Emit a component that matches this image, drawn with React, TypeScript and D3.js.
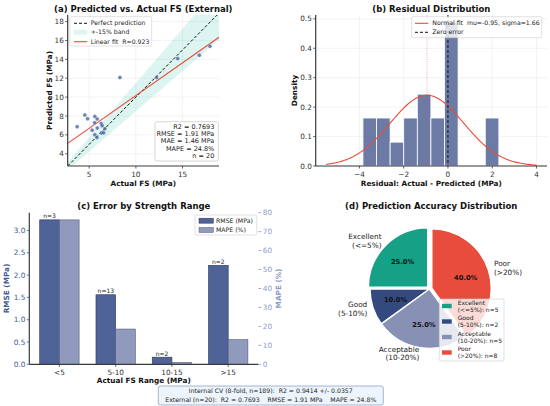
import React from 'react';
import * as d3 from 'd3';

// ---------- DATA ----------
const actualFS = [3.71, 4.54, 4.83, 5.32, 5.58, 5.61, 5.61, 5.86, 5.86, 5.83, 6.29, 6.39, 6.33, 6.68, 6.54, 8.29, 12.22, 14.47, 16.79, 17.93];
const predictedFS = [6.86, 8.10, 7.70, 6.50, 7.28, 7.95, 6.00, 7.67, 6.72, 5.73, 7.20, 6.96, 6.19, 6.65, 6.22, 12.07, 12.07, 14.08, 14.44, 15.40];
const statsLines = ['R2 = 0.7693', 'RMSE = 1.91 MPa', 'MAE = 1.46 MPa', 'MAPE = 24.8%', 'n = 20'];
const fitR = 0.923;

const residBinStart = -3.84;
const residBinWidth = 0.614;
const residDensity = [0.163, 0.163, 0.081, 0.163, 0.244, 0.163, 0.489, 0, 0, 0.163];
const normMu = -0.95;
const normSigma = 1.66;
const normRange = [-5.5, 4.0];

const rangeCats = ['<5', '5-10', '10-15', '>15'];
const rangeRMSE = [3.24, 1.56, 0.16, 2.22];
const rangeMAPE = [76.2, 18.6, 1.0, 13.0];
const rangeN = [3, 13, 2, 2];

const accNames = ['Excellent', 'Good', 'Acceptable', 'Poor'];
const accRanges = ['(<=5%)', '(5-10%)', '(10-20%)', '(>20%)'];
const accCounts = [5, 2, 5, 8];
const accColors = ['#16a085', '#34497d', '#8790b5', '#e74c3c'];
const accExplode = [0.04, 0, 0, 0.04];

const summaryLines = [
  'Internal CV (8-fold, n=189):  R2 = 0.9414 +/- 0.0357',
  'External (n=20):  R2 = 0.7693    RMSE = 1.91 MPa    MAPE = 24.8%',
];

const FONT = 'DejaVu Sans';
const SPINE = '#3a3a3a';
const GRID = '#ebebeb';

function PanelA() {
  const x = d3.scaleLinear([2.7, 18.9], [67.7, 219]);
  const y = d3.scaleLinear([2.7, 18.7], [166, 15]);
  const [x0, x1] = x.domain();
  const mx = d3.mean(actualFS)!;
  const my = d3.mean(predictedFS)!;
  let sxy = 0, sxx = 0;
  actualFS.forEach((v, i) => { sxy += (v - mx) * (predictedFS[i] - my); sxx += (v - mx) * (v - mx); });
  const slope = sxy / sxx;
  const icpt = my - slope * mx;
  const band = d3.line<[number, number]>().x(d => x(d[0])).y(d => y(d[1]))([
    [x0, 0.85 * x0], [x1, 0.85 * x1], [x1, 1.15 * x1], [x0, 1.15 * x0],
  ])! + 'Z';
  return (
    <g>
      <defs>
        <clipPath id="clipA"><rect x={67.7} y={15} width={151.3} height={151} /></clipPath>
      </defs>
      {x.ticks(4).filter(t => t % 5 === 0).map(t => <line key={'gx' + t} x1={x(t)} x2={x(t)} y1={15} y2={166} stroke={GRID} strokeWidth={0.6} />)}
      {d3.range(4, 19, 2).map(t => <line key={'gy' + t} x1={67.7} x2={219} y1={y(t)} y2={y(t)} stroke={GRID} strokeWidth={0.6} />)}
      <g clipPath="url(#clipA)">
        <path d={band} fill="#1abc9c" fillOpacity={0.15} />
        <line x1={x(x0)} y1={y(x0)} x2={x(x1)} y2={y(x1)} stroke="#111" strokeWidth={1} strokeDasharray="3,2" />
        <line x1={x(x0)} y1={y(icpt + slope * x0)} x2={x(x1)} y2={y(icpt + slope * x1)} stroke="#e74c3c" strokeWidth={1.1} />
        {actualFS.map((v, i) => (
          <circle key={i} cx={x(v)} cy={y(predictedFS[i])} r={2} fill="#3d5a99" fillOpacity={0.75} stroke="#fff" strokeWidth={0.3} />
        ))}
      </g>
      <line x1={67.7} x2={67.7} y1={15} y2={166} stroke={SPINE} strokeWidth={1.2} />
      <line x1={67.7} x2={219} y1={166} y2={166} stroke={SPINE} strokeWidth={1.2} />
      {[5, 10, 15].map(t => (
        <g key={'tx' + t}>
          <line x1={x(t)} x2={x(t)} y1={166} y2={168.5} stroke={SPINE} strokeWidth={0.8} />
          <text x={x(t)} y={176.5} textAnchor="middle" fontSize={7.3} fill="#333">{t}</text>
        </g>
      ))}
      {d3.range(4, 19, 2).map(t => (
        <g key={'ty' + t}>
          <line x1={65.2} x2={67.7} y1={y(t)} y2={y(t)} stroke={SPINE} strokeWidth={0.8} />
          <text x={63.8} y={y(t)} dy="0.35em" textAnchor="end" fontSize={7.3} fill="#333">{t}</text>
        </g>
      ))}
      <text x={143.3} y={11.5} textAnchor="middle" fontSize={8.5} fontWeight="bold" fill="#111">(a) Predicted vs. Actual FS (External)</text>
      <text x={143.3} y={186} textAnchor="middle" fontSize={7.3} fontWeight="bold" fill="#111">Actual FS (MPa)</text>
      <text transform="translate(49.5,90.5) rotate(-90)" textAnchor="middle" dy="0.35em" fontSize={7.3} fontWeight="bold" fill="#111">Predicted FS (MPa)</text>
      {/* legend */}
      <rect x={70} y={16.7} width={81.7} height={29.3} rx={1.5} fill="#fff" fillOpacity={0.85} stroke="#ccc" strokeWidth={0.6} />
      <line x1={74} x2={87.3} y1={23.3} y2={23.3} stroke="#111" strokeWidth={1} strokeDasharray="3,2" />
      <text x={90.7} y={23.3} dy="0.35em" fontSize={6.2} fill="#222">Perfect prediction</text>
      <rect x={74} y={29.8} width={13.3} height={5} fill="#1abc9c" fillOpacity={0.15} />
      <text x={90.7} y={32.3} dy="0.35em" fontSize={6.2} fill="#222">+-15% band</text>
      <line x1={74} x2={87.3} y1={41.7} y2={41.7} stroke="#e74c3c" strokeWidth={1.1} />
      <text x={90.7} y={41.7} dy="0.35em" fontSize={6.2} fill="#222" style={{ whiteSpace: 'pre' }}>{`Linear fit  R=${fitR}`}</text>
      {/* stats box */}
      <rect x={155} y={121.7} width={63.3} height={39.3} rx={2} fill="#fff" fillOpacity={0.9} stroke="#bbb" strokeWidth={0.6} />
      {statsLines.map((s, i) => (
        <text key={s} x={214.3} y={127 + i * 7.1} dy="0.35em" textAnchor="end" fontSize={6.5} fill="#222">{s}</text>
      ))}
    </g>
  );
}

function PanelB() {
  const x = d3.scaleLinear([-5.975, 4.475], [315.7, 547]);
  const y = d3.scaleLinear([0, 0.513], [166, 15]);
  const pdf = (v: number) => Math.exp(-0.5 * ((v - normMu) / normSigma) ** 2) / (normSigma * Math.sqrt(2 * Math.PI));
  const xs = d3.range(0, 201).map(i => normRange[0] + (normRange[1] - normRange[0]) * i / 200);
  const curve = d3.line<number>().x(v => x(v)).y(v => y(pdf(v)))(xs)!;
  return (
    <g>
      {[-4, -2, 0, 2, 4].map(t => <line key={'gx' + t} x1={x(t)} x2={x(t)} y1={15} y2={166} stroke={GRID} strokeWidth={0.6} />)}
      {d3.range(0, 6).map(i => i / 10).map(t => <line key={'gy' + t} x1={315.7} x2={547} y1={y(t)} y2={y(t)} stroke={GRID} strokeWidth={0.6} />)}
      {residDensity.map((d, i) => d > 0 && (
        <rect key={i} x={x(residBinStart + i * residBinWidth)} y={y(d)} width={x(residBinStart + (i + 1) * residBinWidth) - x(residBinStart + i * residBinWidth)} height={y(0) - y(d)}
          fill="#6b7ba6" stroke="#fff" strokeWidth={0.8} />
      ))}
      <path d={curve} fill="none" stroke="#e74c3c" strokeWidth={1.1} />
      <line x1={x(normMu)} x2={x(normMu)} y1={15} y2={166} stroke="#e74c3c" strokeOpacity={0.55} strokeWidth={0.8} strokeDasharray="1,1.2" />
      <line x1={x(0)} x2={x(0)} y1={15} y2={166} stroke="#111" strokeWidth={1} strokeDasharray="3,2" />
      <line x1={315.7} x2={315.7} y1={15} y2={166} stroke={SPINE} strokeWidth={1.2} />
      <line x1={315.7} x2={547} y1={166} y2={166} stroke={SPINE} strokeWidth={1.2} />
      {[-4, -2, 0, 2, 4].map(t => (
        <g key={'tx' + t}>
          <line x1={x(t)} x2={x(t)} y1={166} y2={168.5} stroke={SPINE} strokeWidth={0.8} />
          <text x={x(t)} y={176.5} textAnchor="middle" fontSize={7.3} fill="#333">{t < 0 ? '\u2212' + Math.abs(t) : t}</text>
        </g>
      ))}
      {d3.range(0, 6).map(i => i / 10).map(t => (
        <g key={'ty' + t}>
          <line x1={313.2} x2={315.7} y1={y(t)} y2={y(t)} stroke={SPINE} strokeWidth={0.8} />
          <text x={311.8} y={y(t)} dy="0.35em" textAnchor="end" fontSize={7.3} fill="#333">{t.toFixed(1)}</text>
        </g>
      ))}
      <text x={431.3} y={11.5} textAnchor="middle" fontSize={8.5} fontWeight="bold" fill="#111">(b) Residual Distribution</text>
      <text x={431.3} y={186} textAnchor="middle" fontSize={7.3} fontWeight="bold" fill="#111">Residual: Actual - Predicted (MPa)</text>
      <text transform="translate(294.3,90.5) rotate(-90)" textAnchor="middle" dy="0.35em" fontSize={7.3} fontWeight="bold" fill="#111">Density</text>
      <rect x={411.7} y={16.7} width={130} height={21} rx={1.5} fill="#fff" fillOpacity={0.8} stroke="#ccc" strokeWidth={0.6} />
      <line x1={415} x2={428.3} y1={23.3} y2={23.3} stroke="#e74c3c" strokeWidth={1.1} />
      <text x={432.3} y={23.3} dy="0.35em" fontSize={6.2} fill="#222" style={{ whiteSpace: 'pre' }}>{`Normal fit  mu=${normMu}, sigma=${normSigma}`}</text>
      <line x1={415} x2={428.3} y1={32.3} y2={32.3} stroke="#111" strokeWidth={1} strokeDasharray="3,2" />
      <text x={432.3} y={32.3} dy="0.35em" fontSize={6.2} fill="#222">Zero error</text>
    </g>
  );
}

function PanelC() {
  const x = d3.scaleLinear([-0.535, 3.535], [29.3, 258.3]);
  const yL = d3.scaleLinear([0, 3.4], [364.3, 212.7]);
  const yR = d3.scaleLinear([0, 80], [364.3, 212.7]);
  const bw = 0.35;
  const wpx = x(bw) - x(0);
  const cL = '#3f5896';
  const cR = '#8e9cc6';
  return (
    <g>
      {rangeCats.map((c, i) => (
        <g key={c}>
          <rect x={x(i - bw)} y={yL(rangeRMSE[i])} width={wpx} height={yL(0) - yL(rangeRMSE[i])} fill="#4f6398" stroke="#2e3a5c" strokeWidth={0.6} />
          <rect x={x(i)} y={yR(rangeMAPE[i])} width={wpx} height={yR(0) - yR(rangeMAPE[i])} fill="#8f9abd" stroke="#555e78" strokeWidth={0.6} />
          <text x={x(i - bw / 2)} y={yL(rangeRMSE[i]) - 1.6} textAnchor="middle" fontSize={6} fill="#222">{`n=${rangeN[i]}`}</text>
          <line x1={x(i)} x2={x(i)} y1={364.3} y2={366.8} stroke={SPINE} strokeWidth={0.8} />
          <text x={x(i)} y={375.3} textAnchor="middle" fontSize={7.3} fill="#333">{c}</text>
        </g>
      ))}
      <line x1={29.3} x2={29.3} y1={212.7} y2={364.3} stroke={SPINE} strokeWidth={1.2} />
      <line x1={29.3} x2={258.3} y1={364.3} y2={364.3} stroke={SPINE} strokeWidth={1.2} />
      {d3.range(0, 7).map(i => i * 0.5).map(t => (
        <g key={'tl' + t}>
          <line x1={26.8} x2={29.3} y1={yL(t)} y2={yL(t)} stroke={cL} strokeWidth={0.8} />
          <text x={25.3} y={yL(t)} dy="0.35em" textAnchor="end" fontSize={7.3} fill={cL}>{t.toFixed(1)}</text>
        </g>
      ))}
      {d3.range(0, 9).map(i => i * 10).map(t => (
        <g key={'tr' + t}>
          <line x1={258.3} x2={261.3} y1={yR(t)} y2={yR(t)} stroke={cR} strokeWidth={0.8} />
          <text x={262.8} y={yR(t)} dy="0.35em" textAnchor="start" fontSize={7.3} fill={cR}>{t}</text>
        </g>
      ))}
      <text x={143.8} y={209} textAnchor="middle" fontSize={8.5} fontWeight="bold" fill="#111">(c) Error by Strength Range</text>
      <text x={143.8} y={383.3} textAnchor="middle" fontSize={7.3} fontWeight="bold" fill="#111">Actual FS Range (MPa)</text>
      <text transform="translate(6.7,288.5) rotate(-90)" textAnchor="middle" dy="0.35em" fontSize={7.3} fontWeight="bold" fill={cL}>RMSE (MPa)</text>
      <text transform="translate(278.5,288.5) rotate(-90)" textAnchor="middle" dy="0.35em" fontSize={7.3} fontWeight="bold" fill={cR}>MAPE (%)</text>
      <rect x={195} y={215} width={61.7} height={20} rx={1.5} fill="#fff" fillOpacity={0.85} stroke="#ccc" strokeWidth={0.6} />
      <rect x={199} y={218.2} width={14.3} height={5} fill="#4f6398" stroke="#2e3a5c" strokeWidth={0.5} />
      <text x={216} y={220.7} dy="0.35em" fontSize={6.2} fill="#222">RMSE (MPa)</text>
      <rect x={199} y={227.5} width={14.3} height={5} fill="#8f9abd" stroke="#555e78" strokeWidth={0.5} />
      <text x={216} y={230} dy="0.35em" fontSize={6.2} fill="#222">MAPE (%)</text>
    </g>
  );
}

function PanelD() {
  const cx = 429.5, cy = 289, r = 59.5;
  const total = d3.sum(accCounts);
  const pie = d3.pie<number>().sort(null).startAngle(0).endAngle(-2 * Math.PI);
  const arcs = pie(accCounts);
  const arc = d3.arc<d3.PieArcDatum<number>>().innerRadius(0).outerRadius(r);
  const lh = 8.6;
  return (
    <g>
      {arcs.map((a, i) => {
        const mid = (a.startAngle + a.endAngle) / 2;
        const off = accExplode[i] * r;
        const ox = Math.sin(mid) * off, oy = -Math.cos(mid) * off;
        const px = cx + ox + Math.sin(mid) * r * 0.6, py = cy + oy - Math.cos(mid) * r * 0.6;
        const lx = cx + ox + Math.sin(mid) * r * 1.1, ly = cy + oy - Math.cos(mid) * r * 1.1;
        const anchor = Math.sin(mid) > 0 ? 'start' : 'end';
        return (
          <g key={accNames[i]}>
            <path d={arc(a)!} transform={`translate(${cx + ox},${cy + oy})`} fill={accColors[i]} stroke="#fff" strokeWidth={1.5} strokeLinejoin="round" />
            <text x={px} y={py} dy="0.35em" textAnchor="middle" fontSize={6.7} fontWeight="bold" fill="#111">{`${(100 * accCounts[i] / total).toFixed(1)}%`}</text>
            <text x={lx} y={ly - lh / 2} dy="0.35em" textAnchor={anchor} fontSize={7.3} fill="#222">{accNames[i]}</text>
            <text x={lx} y={ly + lh / 2} dy="0.35em" textAnchor={anchor} fontSize={7.3} fill="#222">{accRanges[i]}</text>
          </g>
        );
      })}
      <text x={431.2} y={209} textAnchor="middle" fontSize={8.5} fontWeight="bold" fill="#111">(d) Prediction Accuracy Distribution</text>
      <rect x={439.3} y={299} width={64.7} height={62} rx={1.5} fill="#fff" fillOpacity={0.8} stroke="#ccc" strokeWidth={0.6} />
      {accNames.map((n, i) => {
        const ry = 306 + i * 15.5;
        return (
          <g key={'lg' + n}>
            <rect x={442} y={ry - 2.2} width={9.7} height={4.4} fill={accColors[i]} />
            <text x={457.7} y={ry - 3.5} dy="0.35em" fontSize={6} fill="#222">{n}</text>
            <text x={457.7} y={ry + 3.5} dy="0.35em" fontSize={6} fill="#222">{`${accRanges[i]}: n=${accCounts[i]}`}</text>
          </g>
        );
      })}
    </g>
  );
}

export default function App() {
  return (
    <svg width={550} height={406} viewBox="0 0 550 406" style={{ position: 'absolute', left: 0, top: 0, background: '#fff' }} fontFamily={FONT}>
      <rect x={0} y={0} width={550} height={406} fill="#fff" />
      <PanelA />
      <PanelB />
      <PanelC />
      <PanelD />
      <rect x={158.3} y={386} width={225} height={19} rx={2} fill="#eef4fb" stroke="#8fa3c8" strokeWidth={0.8} />
      {summaryLines.map((s, i) => (
        <text key={i} x={270.8} y={390.8 + i * 8.6} dy="0.35em" textAnchor="middle" fontSize={6.2} fill="#222" style={{ whiteSpace: 'pre' }}>{s}</text>
      ))}
    </svg>
  );
}
